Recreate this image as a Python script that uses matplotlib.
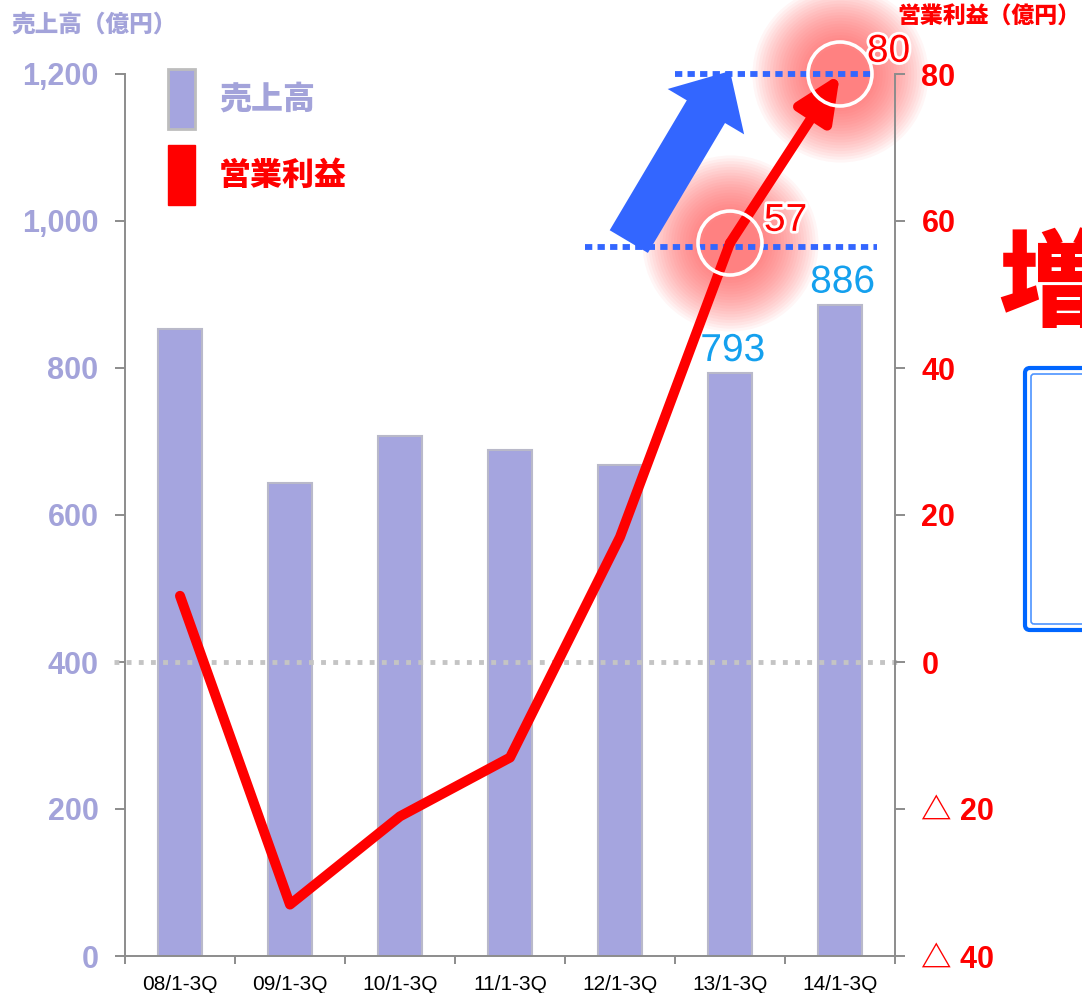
import matplotlib.pyplot as plt
import matplotlib.patheffects as pe
import numpy as np
from matplotlib.patches import FancyBboxPatch, Patch

# =========================
# Data
# =========================
categories = ["08/1-3Q", "09/1-3Q", "10/1-3Q", "11/1-3Q", "12/1-3Q", "13/1-3Q", "14/1-3Q"]
sales = [853, 643, 707, 688, 668, 793, 886]
profit = [9, -33, -21, -13, 17, 57, 80]

sales_ticks = [0, 200, 400, 600, 800, 1000, 1200]
sales_tick_labels = ["0", "200", "400", "600", "800", "1,000", "1,200"]
profit_ticks = [-40, -20, 0, 20, 40, 60, 80]
profit_tick_labels = ["△ 40", "△ 20", "0", "20", "40", "60", "80"]

# which points get highlighted / labelled
highlight_idx = [5, 6]

# =========================
# Styles
# =========================
lavender = "#a5a5df"
lav_text = "#a3a3da"
red = "#ff0000"
blue = "#3366ff"
sky = "#14a0ee"
grey = "#8c8c8c"

plt.rcParams["font.family"] = ["Liberation Sans", "Noto Sans CJK JP", "DejaVu Sans"]

fig = plt.figure(figsize=(10.82, 9.93), dpi=100)
ax = fig.add_axes([125 / 1082, 1 - 956 / 993, 770 / 1082, 882 / 993])
ax2 = ax.twinx()

x = np.arange(len(categories))

# bars
ax.bar(x, sales, width=0.4, color=lavender, edgecolor="#b9b9c9", linewidth=1.5, zorder=2)
ax.set_xlim(-0.5, len(categories) - 0.5)
ax.set_ylim(0, 1200)
ax.set_yticks(sales_ticks)
ax.set_yticklabels(sales_tick_labels)
ax.tick_params(axis="y", colors=grey, labelcolor=lav_text, labelsize=22,
               length=7, width=1.4, direction="out", pad=12)
for t in ax.get_yticklabels():
    t.set_fontweight("bold")

ax.set_xticks(x)
ax.set_xticklabels(categories, fontsize=15)
ax.set_xticks(np.arange(len(categories) + 1) - 0.5, minor=True)
ax.tick_params(axis="x", which="major", length=0, pad=14)
ax.tick_params(axis="x", which="minor", length=6, width=1.4, color=grey)

for s in ["top", "right"]:
    ax.spines[s].set_visible(False)
ax.spines["left"].set_color(grey)
ax.spines["bottom"].set_color(grey)
ax.spines["left"].set_linewidth(1.4)
ax.spines["bottom"].set_linewidth(1.4)

# right axis
ax2.set_ylim(-40, 80)
ax2.set_yticks(profit_ticks)
ax2.set_yticklabels(profit_tick_labels)
ax2.tick_params(axis="y", colors=grey, labelcolor=red, labelsize=22,
                length=7, width=1.4, direction="out", pad=12)
for t in ax2.get_yticklabels():
    t.set_fontweight("bold")
for s in ["top", "left", "bottom"]:
    ax2.spines[s].set_visible(False)
ax2.spines["right"].set_color(grey)
ax2.spines["right"].set_linewidth(1.4)

# zero line of the profit axis
ax2.plot([-0.6, len(categories) - 0.45], [0, 0], color="#c4c4c4", lw=3.5,
         linestyle=(0, (1.0, 1.5)), solid_capstyle="butt", clip_on=False, zorder=1)

# glows around highlighted points
for i in highlight_idx:
    for r in np.linspace(88, 28, 22):
        ax2.scatter(x[i], profit[i], s=(2 * r / 1.389) ** 2, color="#ff5050",
                    alpha=0.05, linewidths=0, zorder=1.5, clip_on=False)

# blue dotted levels
dots = [(0, (1.25, 0.9))]
ax2.hlines(profit[6], 4.5, 6.3, color=blue, lw=4.2, linestyles=dots, zorder=2, clip_on=False)
ax2.hlines(profit[5] - 0.5, 3.68, 6.34, color=blue, lw=4.2, linestyles=dots, zorder=2,
           clip_on=False)

# big blue arrow
ax2.annotate("", xy=(x[5], profit[6] + 0.4), xytext=(x[5] - 0.92, profit[5] + 0.2),
             arrowprops=dict(arrowstyle="simple,head_length=0.85,head_width=1.6,tail_width=0.8",
                             mutation_scale=40, color=blue, lw=0, shrinkA=0, shrinkB=0),
             annotation_clip=False, zorder=2.5)

# profit line
ax2.plot(x[:-1], profit[:-1], color=red, lw=7.2, solid_capstyle="round",
         solid_joinstyle="round", zorder=3)
ax2.annotate("", xy=(x[-1], profit[-1]), xytext=(x[-2], profit[-2]),
             arrowprops=dict(arrowstyle="-|>,head_length=1.1,head_width=0.5",
                             mutation_scale=25, lw=7.2, color=red,
                             shrinkA=0, shrinkB=0),
             annotation_clip=False, zorder=3)

# white rings
for i in highlight_idx:
    ax2.scatter(x[i], profit[i], s=(2 * 32 / 1.389) ** 2, facecolors="none",
                edgecolors="white", linewidths=2.6, zorder=4, clip_on=False)

halo = [pe.withStroke(linewidth=4, foreground="white")]
ax2.annotate(str(profit[5]), (x[5], profit[5]), xytext=(40, 16), textcoords="offset points",
             ha="center", va="center", fontsize=28, color=red, zorder=5, path_effects=halo)
ax2.annotate(str(profit[6]), (x[6], profit[6]), xytext=(35, 16), textcoords="offset points",
             ha="center", va="center", fontsize=28, color=red, zorder=5, path_effects=halo,
             annotation_clip=False)
for i in highlight_idx:
    ax.annotate(str(sales[i]), (x[i], sales[i]), xytext=(2, 3), textcoords="offset points",
                ha="center", va="bottom", fontsize=28, color=sky, zorder=5, path_effects=halo)

# legend
handles = [Patch(facecolor=lavender, edgecolor="#bdbdbd", linewidth=2),
           Patch(facecolor=red, edgecolor=red)]
leg = ax.legend(handles, ["売上高", "営業利益"], loc="upper left",
                bbox_to_anchor=(0.035, 1.024), frameon=False, borderpad=0,
                handlelength=0.85, handleheight=2.5, labelspacing=0.52,
                handletextpad=0.75, prop={"size": 23, "weight": "heavy"})
for t, c in zip(leg.get_texts(), [lav_text, red]):
    t.set_color(c)

# axis titles
fig.text(12 / 1082, 1 - 25 / 993, "売上高（億円）", fontsize=17, fontweight="heavy",
         color=lav_text, va="center", ha="left")
fig.text(897 / 1082, 1 - 17 / 993, "営業利益（億円）", fontsize=16.5, fontweight="heavy",
         color=red, va="center", ha="left")

# cut-off elements on the right side
fig.text(998 / 1082, 1 - 290 / 993, "増", fontsize=76, fontweight="heavy",
         color=red, va="center", ha="left")
fig.patches.append(FancyBboxPatch((10.25, 3.63), 1.5, 2.62,
                                  boxstyle="round,pad=0,rounding_size=0.05",
                                  transform=fig.dpi_scale_trans, facecolor="white",
                                  edgecolor="#0066ff", linewidth=3, figure=fig))
fig.patches.append(FancyBboxPatch((10.31, 3.69), 1.4, 2.50,
                                  boxstyle="round,pad=0,rounding_size=0.03",
                                  transform=fig.dpi_scale_trans, facecolor="none",
                                  edgecolor="#4d94ff", linewidth=1.2, figure=fig))

fig.savefig("out.png", dpi=100)
